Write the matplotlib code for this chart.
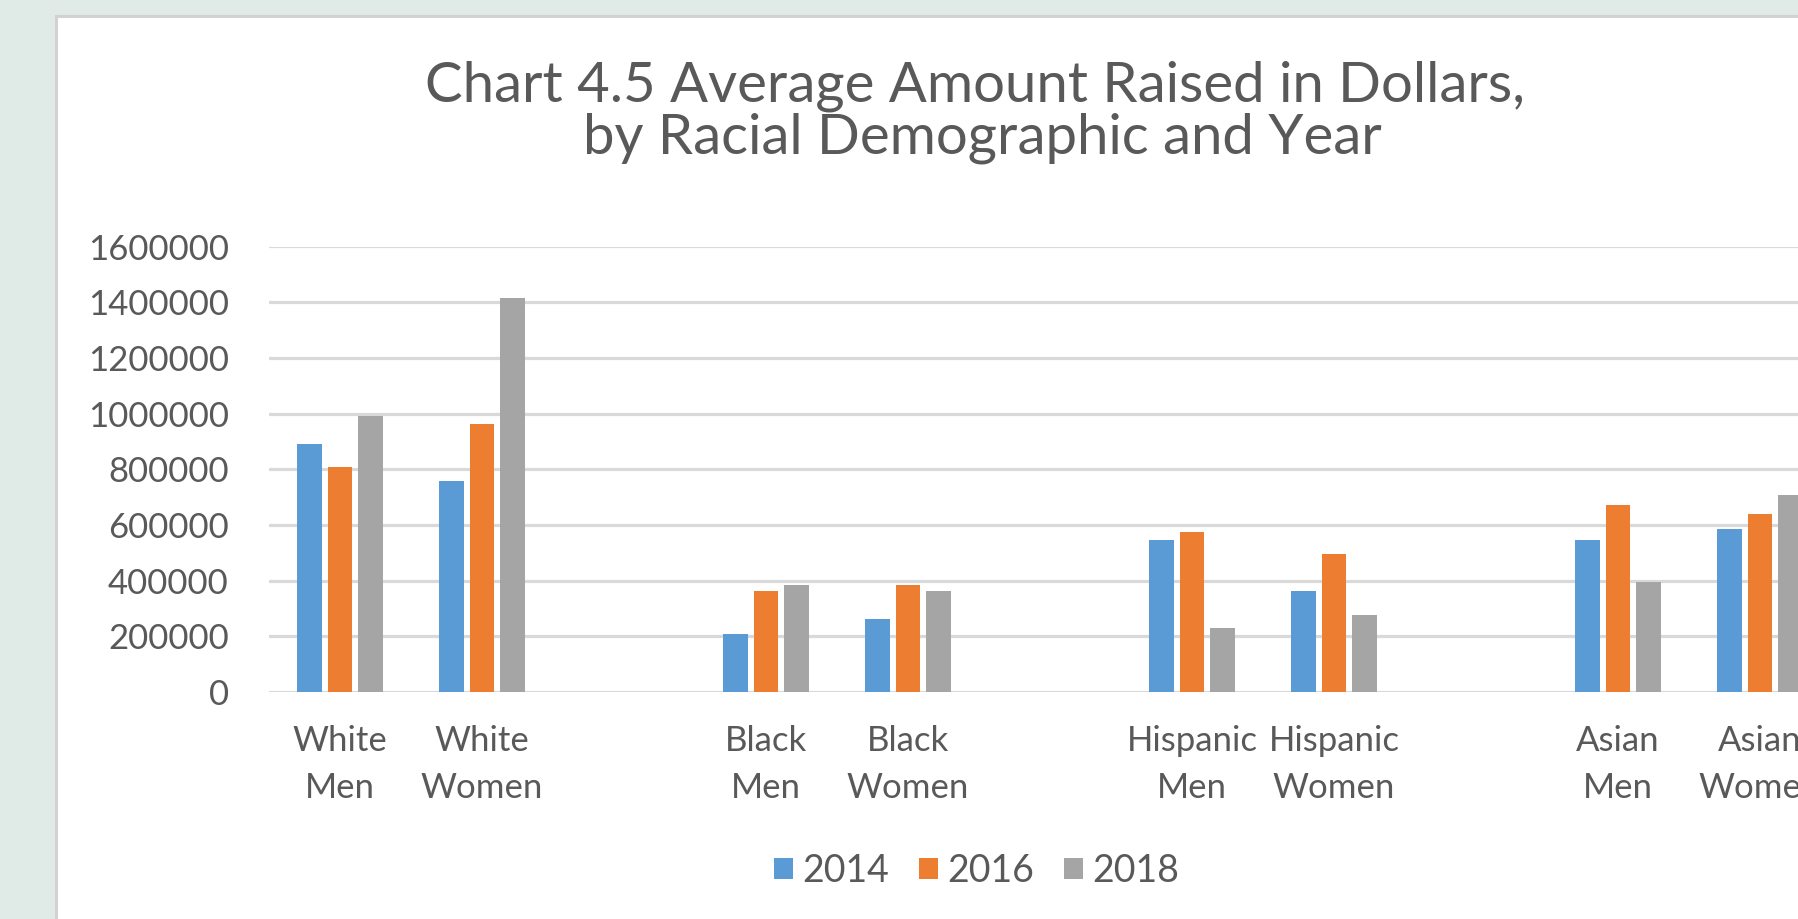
import numpy as np
import matplotlib
matplotlib.use("Agg")
import matplotlib.pyplot as plt
from matplotlib.patches import Rectangle

# average amount raised (dollars) per demographic group
categories = ["White\nMen", "White\nWomen", "Black\nMen", "Black\nWomen",
              "Hispanic\nMen", "Hispanic\nWomen", "Asian\nMen", "Asian\nWomen"]
years = ["2014", "2016", "2018"]
raised_2014 = [890000, 758000, 210000, 262000, 546000, 363000, 546000, 584000]
raised_2016 = [808000, 964000, 363000, 384000, 576000, 495000, 670000, 640000]
raised_2018 = [991000, 1416000, 385000, 363000, 230000, 276000, 394000, 708000]
colors = ["#5B9BD5", "#ED7D31", "#A5A5A5"]
yticks = [0, 200000, 400000, 600000, 800000, 1000000, 1200000, 1400000, 1600000]

TXT = "#595959"
W, H = 1798, 919
plt.rcParams["font.family"] = ["Lato", "DejaVu Sans"]

fig = plt.figure(figsize=(W / 100, H / 100), dpi=100)
fig.patch.set_facecolor("#E0EAE7")

# white chart panel with a thin grey frame
panel = Rectangle((56 / W, -0.1), 1.2, 1 - 16 / H + 0.1, transform=fig.transFigure,
                  facecolor="white", edgecolor="#D2D2D2", linewidth=2.2, zorder=-1)
fig.patches.append(panel)

slot = 142
ax = fig.add_axes([269 / W, (H - 692) / H, 11 * slot / W, 445.5 / H])
ax.set_facecolor("none")
ax.set_zorder(1)

# men/women pairs, one empty slot between groups
idx = np.arange(len(categories))
xpos = idx + idx // 2

series = [raised_2014, raised_2016, raised_2018]
bw, step = 0.17, 0.215
for i, (vals, year) in enumerate(zip(series, years)):
    ax.bar(xpos + (i - 1) * step, vals, width=bw, color=colors[i], label=year, zorder=3)

ax.set_xlim(-0.5, 10.5)
ax.set_ylim(0, 1600000)
ax.set_yticks(yticks)
ax.set_yticklabels([str(v) for v in yticks])
ax.set_xticks(xpos)
ax.set_xticklabels(categories, linespacing=1.55)
ax.grid(axis="y", color="#D9D9D9", linewidth=2.3, zorder=0)
ax.set_axisbelow(True)
for s in ax.spines.values():
    s.set_visible(False)
ax.tick_params(axis="both", length=0, labelsize=25, labelcolor=TXT)
ax.tick_params(axis="y", pad=29)
ax.tick_params(axis="x", pad=24)

fig.text(975 / W, 1 - 86 / H, "Chart 4.5 Average Amount Raised in Dollars,",
         ha="center", va="center", fontsize=40.5, color=TXT)
fig.text(982 / W, 1 - 138 / H, "by Racial Demographic and Year",
         ha="center", va="center", fontsize=40.5, color=TXT)

fig.legend(loc="center", bbox_to_anchor=(977 / W, 1 - 871 / H), ncol=3,
           frameon=False, fontsize=27, labelcolor=TXT,
           handlelength=0.5, handleheight=0.5, handletextpad=0.25,
           columnspacing=0.8)

fig.savefig("out.png", dpi=100, facecolor=fig.get_facecolor())
